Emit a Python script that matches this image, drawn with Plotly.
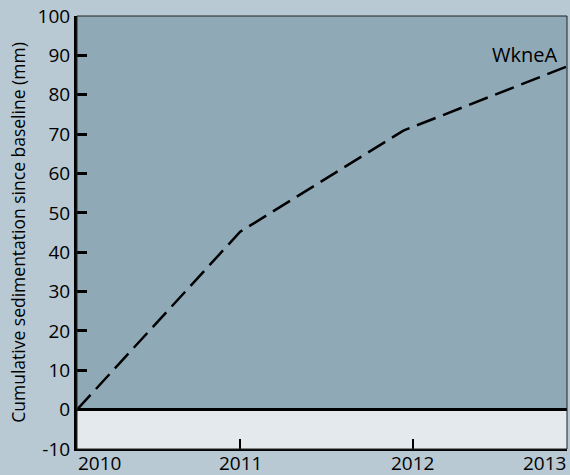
import plotly.graph_objects as go

# Data
dates = ["2010-01-01", "2011-01-01", "2012-01-01", "2013-01-01"]
sedimentation = [0, 45.2, 70.9, 87.2]
series_name = "WkneA"

tick_dates = ["2010-01-01", "2011-01-01", "2012-01-22", "2013-01-01"]
tick_labels = ["2010", "2011", "2012", "2013"]
y_ticks = list(range(-10, 101, 10))
y_tick_labels = [str(v) for v in y_ticks]

FONT = "Open Sans"
PAPER = "#b8c9d3"
UPPER = "#8fa9b7"
LOWER = "#e3e9ed"

fig = go.Figure()
fig.add_trace(go.Scatter(
    x=dates, y=sedimentation, mode="lines", name=series_name,
    line=dict(color="black", width=2.5, dash="20px,8px"),
    showlegend=False, cliponaxis=False, hoverinfo="skip",
))

# label at end of series
fig.add_annotation(
    x=dates[-1], y=sedimentation[-1], text=series_name, showarrow=False,
    xanchor="right", yanchor="bottom", xshift=-8, yshift=-4,
    font=dict(family=FONT, size=20, color="black"),
)

# tick labels as annotations (first left-aligned, last right-aligned)
anchors = ["left", "center", "center", "right"]
for d, t, a in zip(tick_dates, tick_labels, anchors):
    fig.add_annotation(
        x=d, y=0, yref="paper", text=t, showarrow=False,
        xanchor=a, yanchor="top", yshift=0, borderpad=0,
        font=dict(family=FONT, size=19, color="black"),
    )

# shaded region above zero
fig.add_shape(type="rect", xref="paper", yref="y", x0=0, x1=1, y0=0, y1=y_ticks[-1],
              fillcolor=UPPER, line_width=0, layer="below")
# thin border box
fig.add_shape(type="rect", xref="paper", yref="paper", x0=0, x1=1, y0=0, y1=1,
              line=dict(color="#222", width=1), layer="above")

fig.update_layout(
    width=570, height=475,
    paper_bgcolor=PAPER, plot_bgcolor=LOWER,
    margin=dict(l=77, r=3, t=13, b=26),
    font=dict(family=FONT, size=19, color="black"),
    hovermode=False,
)
fig.update_xaxes(
    type="date", range=[dates[0], dates[-1]],
    tickvals=tick_dates[1:3], ticktext=["", ""],
    ticks="inside", ticklen=10, tickwidth=2, tickcolor="black",
    showline=True, linecolor="black", linewidth=1.5,
    showgrid=False, zeroline=False,
)
fig.update_yaxes(
    range=[-10, 100.02], tickvals=y_ticks, ticktext=y_tick_labels,
    ticks="inside", ticklen=10, tickwidth=2.5, tickcolor="black",
    showline=True, linecolor="black", linewidth=3,
    showgrid=False, zeroline=True, zerolinecolor="black", zerolinewidth=2.5,
    tickfont=dict(family=FONT, size=19), ticklabeloverflow="allow",
    title=dict(text="Cumulative sedimentation since baseline (mm)",
               font=dict(family=FONT, size=17.5), standoff=8),
)

fig.write_html(
    "out.html",
    config={"displayModeBar": False},
    post_script="document.body.style.margin='0';document.body.style.padding='0';"
                "document.body.style.overflow='hidden';",
)
